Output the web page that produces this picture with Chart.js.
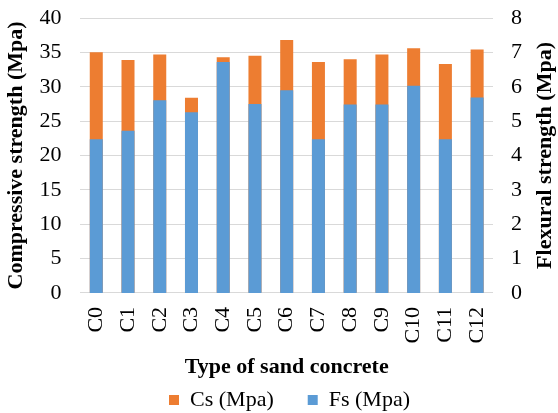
<!DOCTYPE html>
<html>
<head>
<meta charset="utf-8">
<script src="https://cdn.jsdelivr.net/npm/chart.js@4"></script>
<style>
  html, body { margin: 0; padding: 0; background: #fff; }
  #wrap { width: 558px; height: 413px; }
</style>
</head>
<body>
<div id="wrap"><canvas id="chart"></canvas></div>
<script>
// data
const categories = ["C0", "C1", "C2", "C3", "C4", "C5", "C6", "C7", "C8", "C9", "C10", "C11", "C12"];
const csValues = [35.0, 33.9, 34.7, 28.4, 34.3, 34.5, 36.8, 33.6, 34.0, 34.7, 35.6, 33.3, 35.4];
const fsValues = [4.47, 4.72, 5.61, 5.26, 6.72, 5.50, 5.90, 4.47, 5.48, 5.48, 6.03, 4.47, 5.69];

const SERIF = "'Liberation Serif', 'Times New Roman', serif";

// right axis title reads bottom-to-top like the left one
const rightTitle = {
    id: "rightTitle",
    afterDraw(chart) {
        const ctx = chart.ctx;
        const area = chart.chartArea;
        ctx.save();
        ctx.translate(chart.width - 13, (area.top + area.bottom) / 2);
        ctx.rotate(-Math.PI / 2);
        ctx.font = "bold 22px " + SERIF;
        ctx.fillStyle = "#000";
        ctx.textAlign = "center";
        ctx.textBaseline = "middle";
        ctx.fillText("Flexural strength (Mpa)", 0, 0);
        ctx.restore();
    }
};

// wide gap between legend items but little room above them
const legendSpacing = {
    id: "legendSpacing",
    beforeInit(chart) {
        const fit = chart.legend.fit;
        chart.legend.fit = function () {
            fit.call(this);
            this.height -= 34;
        };
    },
    afterLayout(chart) {
        const lg = chart.legend;
        lg.top -= 26;
        lg.left += 27;
        lg.right += 27;
    }
};

// chart.js counts tick padding twice in the axis width and once more on top
function trimAxis(scale) {
    scale.width -= scale.options.ticks.padding;
    scale.paddingTop = 18;
}

new Chart(document.getElementById("chart"), {
    type: "bar",
    data: {
        labels: categories,
        datasets: [{
            label: "Cs (Mpa)",
            data: csValues,
            backgroundColor: "#ED7D31",
            yAxisID: "y",
            order: 1
        }, {
            label: "Fs (Mpa)",
            data: fsValues,
            backgroundColor: "#5B9BD5",
            yAxisID: "y2",
            order: 0
        }]
    },
    options: {
        responsive: true,
        maintainAspectRatio: false,
        animation: false,
        layout: { padding: { left: 3, right: 36, top: 0, bottom: 0 } },
        datasets: { bar: { categoryPercentage: 1, barPercentage: 0.41 } },
        plugins: {
            legend: {
                position: "bottom",
                labels: {
                    color: "#000",
                    font: { family: SERIF, size: 22 },
                    boxWidth: 10,
                    boxHeight: 10,
                    padding: 34,
                    sort: (a, b) => a.datasetIndex - b.datasetIndex
                }
            },
            tooltip: { enabled: false }
        },
        scales: {
            x: {
                stacked: true,
                afterFit(scale) {
                    scale.paddingLeft = 0;
                    scale.paddingRight = 0;
                },
                grid: { display: false },
                border: { display: false },
                ticks: {
                    color: "#000",
                    font: { family: SERIF, size: 22 },
                    maxRotation: 90,
                    minRotation: 90,
                    autoSkip: false,
                    padding: 6
                },
                title: {
                    display: true,
                    text: "Type of sand concrete",
                    color: "#000",
                    font: { family: SERIF, size: 22, weight: "bold" },
                    padding: { top: 5, bottom: 0 }
                }
            },
            y: {
                position: "left",
                min: 0,
                max: 40,
                afterFit: trimAxis,
                grid: { color: "#D9D9D9", drawTicks: false },
                border: { display: false },
                ticks: {
                    stepSize: 5,
                    color: "#000",
                    font: { family: SERIF, size: 22 },
                    padding: 19
                },
                title: {
                    display: true,
                    text: "Compressive strength (Mpa)",
                    color: "#000",
                    font: { family: SERIF, size: 22, weight: "bold" },
                    padding: { top: 0, bottom: 10 }
                }
            },
            y2: {
                position: "right",
                min: 0,
                max: 8,
                afterFit: trimAxis,
                grid: { display: false, drawTicks: false },
                border: { display: false },
                ticks: {
                    stepSize: 1,
                    color: "#000",
                    font: { family: SERIF, size: 22 },
                    padding: 18
                }
            }
        }
    },
    plugins: [rightTitle, legendSpacing]
});
</script>
</body>
</html>
